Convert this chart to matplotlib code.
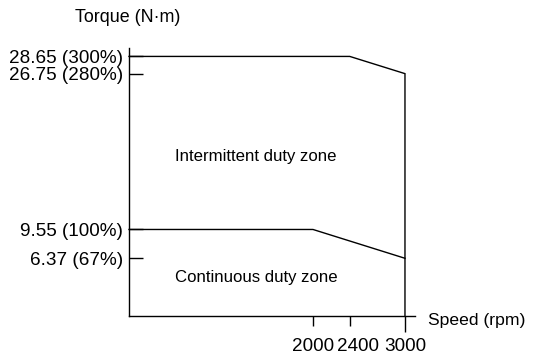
import matplotlib
matplotlib.use("Agg")
import matplotlib.pyplot as plt
from matplotlib.transforms import ScaledTranslation

plt.rcParams['font.family'] = ['Liberation Sans', 'DejaVu Sans']

# Torque-speed characteristic
intermittent_speed = [0, 2400, 3000, 3000]
intermittent_torque = [28.65, 28.65, 26.75, 0]
continuous_speed = [0, 2000, 3000]
continuous_torque = [9.55, 9.55, 6.37]

y_ticks = [28.65, 26.75, 9.55, 6.37]
y_tick_labels = ["28.65 (300%)", "26.75 (280%)", "9.55 (100%)", "6.37 (67%)"]
x_ticks = [2000, 2400]
x_tick_labels = ["2000", "2400"]
x_end_tick = [3000]
x_end_label = ["3000"]

W, H = 533, 361
fig = plt.figure(figsize=(W / 100, H / 100), dpi=100)
ax = fig.add_axes([129 / W, (H - 316) / H, (415 - 129) / W, (316 - 48) / H])

ax.plot(intermittent_speed, intermittent_torque, color='black', lw=1.0,
        solid_joinstyle='miter', clip_on=False)
ax.plot(continuous_speed, continuous_torque, color='black', lw=1.0,
        solid_joinstyle='miter', clip_on=False)

ax.set_xlim(0, 3109)
ax.set_ylim(0, 29.58)

for side in ('top', 'right'):
    ax.spines[side].set_visible(False)
for side in ('left', 'bottom'):
    ax.spines[side].set_linewidth(1.0)

ax.set_yticks(y_ticks)
ax.set_yticklabels(y_tick_labels)
ax.tick_params(axis='y', direction='in', length=10, width=1.0, pad=4.5,
               labelsize=13.6)

ax.set_xticks(x_ticks)
ax.set_xticklabels(x_tick_labels)
ax.set_xticks(x_end_tick, minor=True)
ax.set_xticklabels(x_end_label, minor=True)
ax.tick_params(axis='x', which='major', direction='out', length=7.5,
               width=1.0, pad=8.5, labelsize=13.6)
ax.tick_params(axis='x', which='minor', direction='out', length=11.5,
               width=1.0, pad=4.5, labelsize=13.6)

# nudge the 2400 label so it does not crowd 2000
for lbl in ax.get_xticklabels():
    if lbl.get_text() == "2400":
        lbl.set_transform(lbl.get_transform() +
                          ScaledTranslation(8 / 100, 0, fig.dpi_scale_trans))

ax.text(1380, 17.6, "Intermittent duty zone", ha='center', va='center',
        fontsize=12.1)
ax.text(1380, 4.2, "Continuous duty zone", ha='center', va='center',
        fontsize=12.1)

fig.text(75 / W, 1 - 17 / H, "Torque (N\u00b7m)", ha='left', va='center',
         fontsize=12.9)
fig.text(428 / W, 1 - 320 / H, "Speed (rpm)", ha='left', va='center',
         fontsize=12.6)

fig.savefig("out.png", dpi=100)
